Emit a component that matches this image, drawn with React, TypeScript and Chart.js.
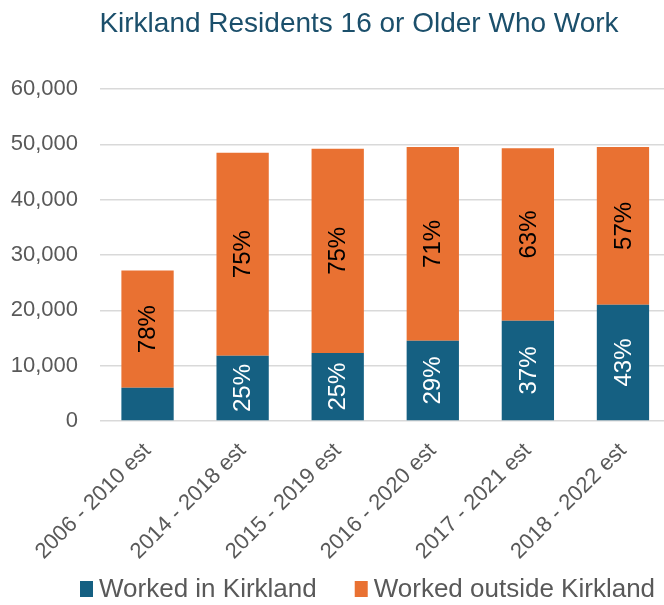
import React, { useEffect, useRef } from "react";
import { Chart, registerables } from "chart.js";

Chart.register(...registerables);

const titleText = "Kirkland Residents 16 or Older Who Work";
const categories = [
  "2006 - 2010 est",
  "2014 - 2018 est",
  "2015 - 2019 est",
  "2016 - 2020 est",
  "2017 - 2021 est",
  "2018 - 2022 est",
];
const seriesNames = ["Worked in Kirkland", "Worked outside Kirkland"];
const workedIn = [6000, 11800, 12300, 14500, 18100, 21000];
const workedOutside = [21200, 36700, 36900, 35000, 31200, 28500];
const workedInLabels = ["", "25%", "25%", "29%", "37%", "43%"];
const workedOutsideLabels = ["78%", "75%", "75%", "71%", "63%", "57%"];
const yTicks = [0, 10000, 20000, 30000, 40000, 50000, 60000];

const BLUE = "#156082";
const ORANGE = "#E97132";
const GREY = "#595959";
const FONT = "'Liberation Sans', Arial, sans-serif";

const segmentLabels = [workedInLabels, workedOutsideLabels];
const labelColors = ["#ffffff", "#000000"];

const dataLabelPlugin = {
  id: "segLabels",
  afterDatasetsDraw(chart: any) {
    const ctx = chart.ctx;
    ctx.save();
    ctx.font = `24px ${FONT}`;
    ctx.textAlign = "center";
    ctx.textBaseline = "middle";
    chart.data.datasets.forEach((_ds: any, di: number) => {
      const meta = chart.getDatasetMeta(di);
      meta.data.forEach((el: any, i: number) => {
        const txt = segmentLabels[di][i];
        if (!txt) return;
        const cy = (el.y + el.base) / 2;
        ctx.save();
        ctx.translate(el.x, cy);
        ctx.rotate(-Math.PI / 2);
        ctx.fillStyle = labelColors[di];
        ctx.fillText(txt, 0, 1);
        ctx.restore();
      });
    });
    ctx.restore();
  },
};

const titlePlugin = {
  id: "customTitle",
  afterDraw(chart: any) {
    const ctx = chart.ctx;
    ctx.save();
    ctx.font = `28px ${FONT}`;
    ctx.fillStyle = "#1B4F6B";
    ctx.textAlign = "center";
    ctx.textBaseline = "alphabetic";
    ctx.fillText(titleText, 359, 32);
    ctx.restore();
  },
};

const legendPlugin = {
  id: "customLegend",
  afterDraw(chart: any) {
    const ctx = chart.ctx;
    ctx.save();
    ctx.font = `26px ${FONT}`;
    ctx.textBaseline = "alphabetic";
    ctx.textAlign = "left";
    let x = 80;
    const baseY = 597;
    chart.data.datasets.forEach((ds: any) => {
      ctx.fillStyle = ds.backgroundColor;
      ctx.fillRect(x, baseY - 16, 13, 16);
      ctx.fillStyle = GREY;
      ctx.fillText(ds.label, x + 19, baseY);
      x += 19 + ctx.measureText(ds.label).width + 38;
    });
    ctx.restore();
  },
};

export default function App() {
  const ref = useRef<HTMLCanvasElement | null>(null);
  useEffect(() => {
    if (!ref.current) return;
    const chart = new Chart(ref.current, {
      type: "bar",
      data: {
        labels: categories,
        datasets: [
          {
            label: seriesNames[0],
            data: workedIn,
            backgroundColor: BLUE,
            barPercentage: 0.55,
            categoryPercentage: 1,
          },
          {
            label: seriesNames[1],
            data: workedOutside,
            backgroundColor: ORANGE,
            barPercentage: 0.55,
            categoryPercentage: 1,
          },
        ],
      },
      options: {
        responsive: false,
        animation: false,
        layout: { padding: { top: 89, right: 1.5, bottom: 0, left: 0 } },
        plugins: {
          legend: { display: false },
          title: { display: false },
          tooltip: { enabled: false },
        },
        scales: {
          x: {
            stacked: true,
            grid: { display: false, drawTicks: false },
            border: { display: false },
            ticks: {
              autoSkip: false,
              maxRotation: 45,
              minRotation: 45,
              padding: 17,
              color: GREY,
              font: { family: FONT, size: 22 },
            },
            afterFit(scale: any) {
              scale.height = 184;
            },
          },
          y: {
            stacked: true,
            min: 0,
            max: 60000,
            afterBuildTicks(scale: any) {
              scale.ticks = yTicks.map((v) => ({ value: v }));
            },
            grid: { color: "#d9d9d9", lineWidth: 1.5, drawTicks: false },
            border: { display: false },
            ticks: {
              padding: 22,
              color: GREY,
              font: { family: FONT, size: 22 },
              callback: (v: any) => Number(v).toLocaleString("en-US"),
            },
            afterFit(scale: any) {
              scale.width = 100;
            },
          },
        },
      },
      plugins: [dataLabelPlugin, titlePlugin, legendPlugin],
    });
    return () => chart.destroy();
  }, []);

  return (
    <div
      style={{
        position: "fixed",
        left: 0,
        top: 0,
        width: 664,
        height: 605,
        overflow: "hidden",
        background: "#ffffff",
      }}
    >
      <canvas ref={ref} width={672} height={605} style={{ display: "block" }} />
    </div>
  );
}
